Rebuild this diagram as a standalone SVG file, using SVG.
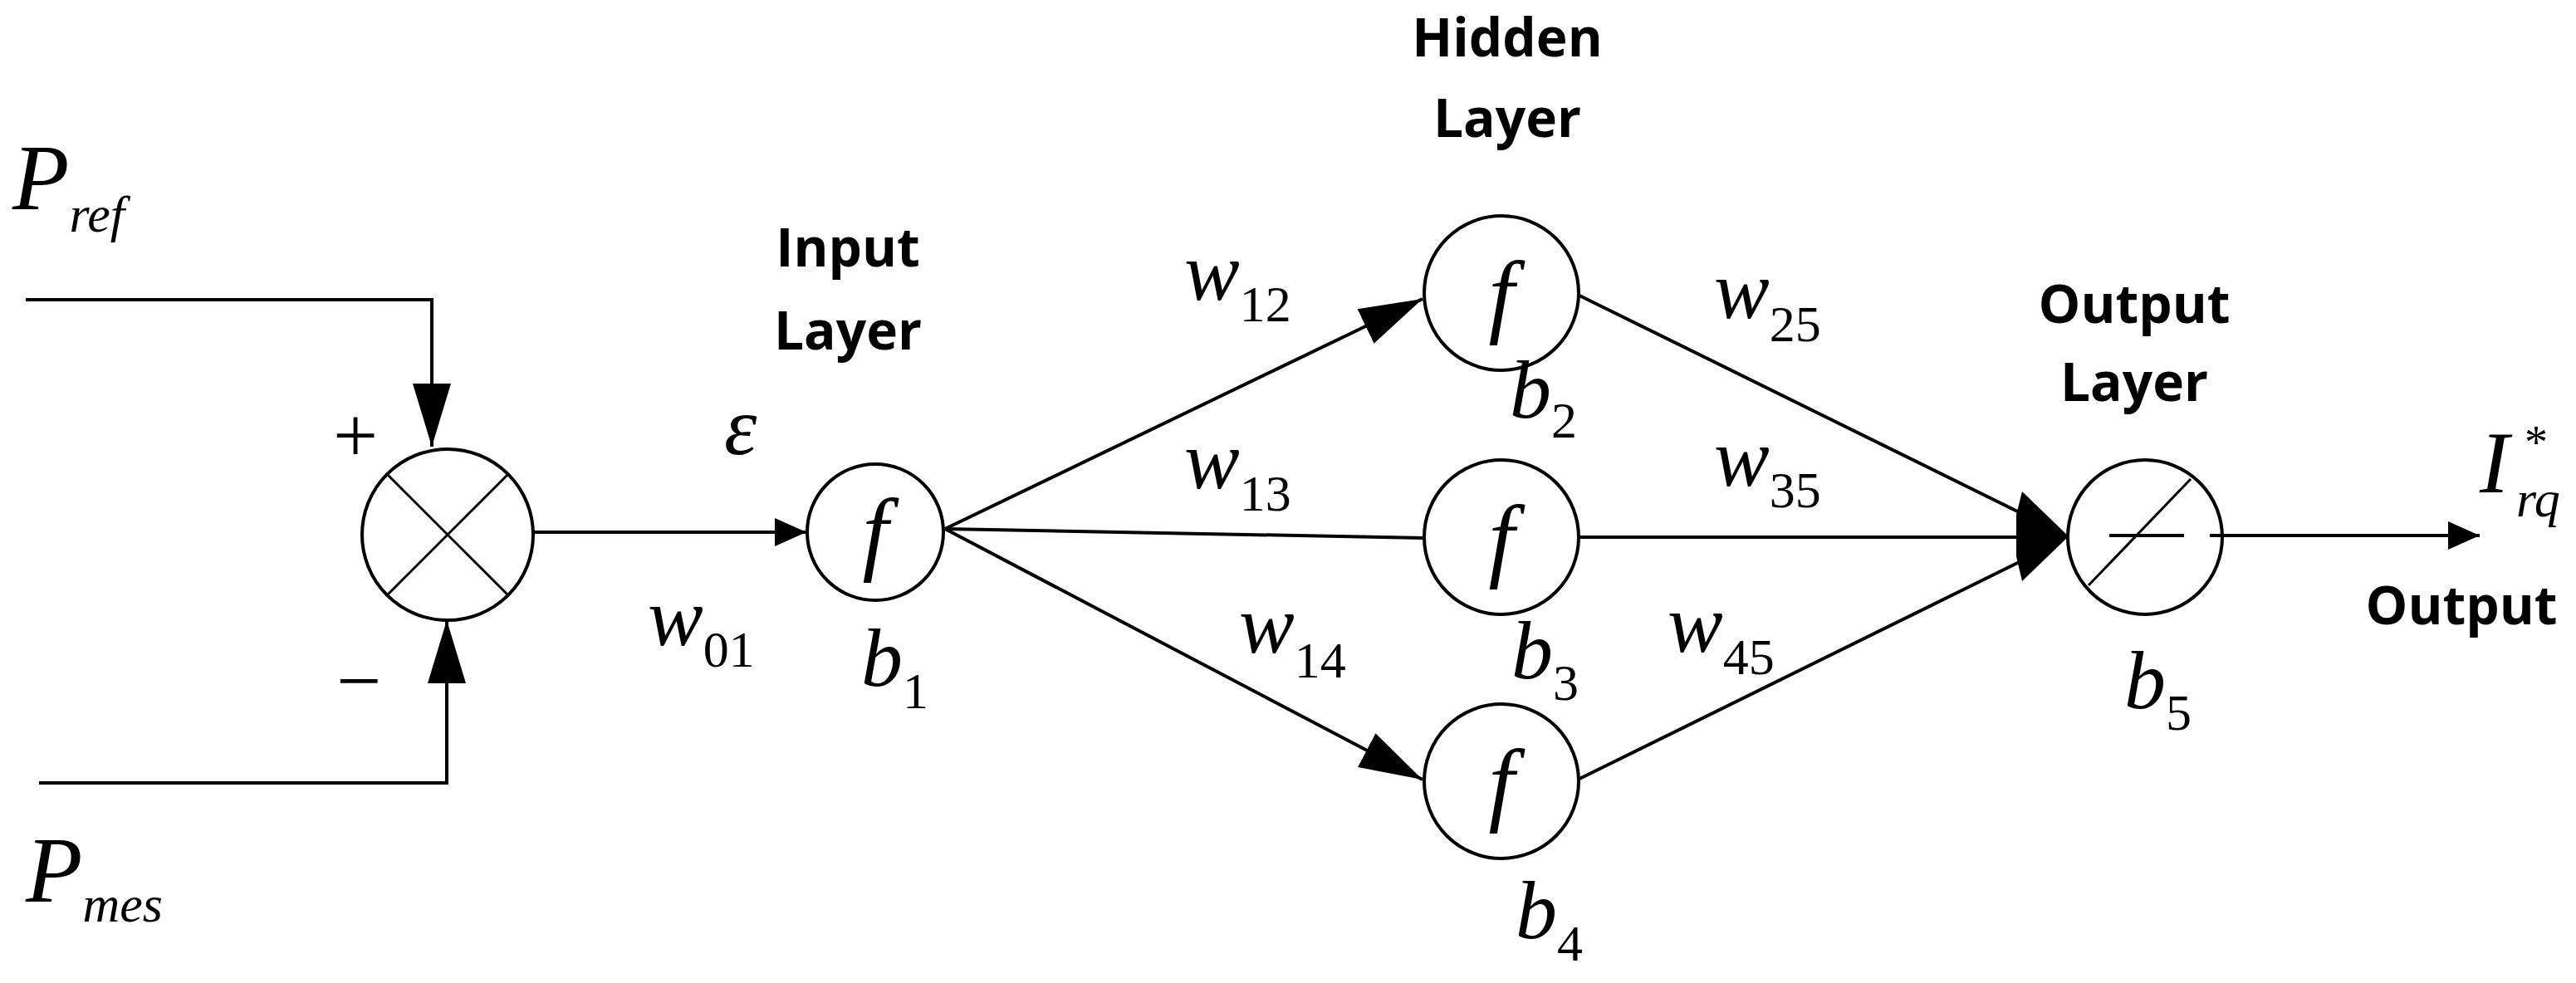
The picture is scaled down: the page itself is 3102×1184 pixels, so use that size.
<svg xmlns="http://www.w3.org/2000/svg" width="3102" height="1184" viewBox="0 0 3102 1184">
<style>
.ln{fill:none;stroke:#000;stroke-width:4}
.nd{fill:#fff;stroke:#000;stroke-width:4}
.lb{font-family:'Open Sans','Liberation Sans',sans-serif;font-weight:bold;font-size:64px;fill:#000;text-anchor:middle;font-style:normal}
</style>
<defs>
<marker id="big" markerUnits="userSpaceOnUse" markerWidth="80" markerHeight="50" viewBox="0 0 80 50" refX="76" refY="25" orient="auto"><path d="M0,2 L76,25 L0,48 Z" fill="#000"/></marker>
<marker id="sm" markerUnits="userSpaceOnUse" markerWidth="40" markerHeight="36" viewBox="0 0 40 36" refX="38" refY="18" orient="auto"><path d="M0,1 L38,18 L0,35 Z" fill="#000"/></marker>
</defs>
<g id="connectors">
<polyline class="ln" points="31,361 520,361 520,538" marker-end="url(#big)"/>
<polyline class="ln" points="47,943 538,943 538,747" marker-end="url(#big)"/>
<line class="ln" x1="643" y1="641" x2="971" y2="641" marker-end="url(#sm)"/>
<line class="ln" x1="1138" y1="637" x2="1713" y2="360" marker-end="url(#big)"/>
<line class="ln" x1="1138" y1="637" x2="1715" y2="648"/>
<line class="ln" x1="1138" y1="637" x2="1713" y2="939" marker-end="url(#big)"/>
<line class="ln" x1="1902" y1="356" x2="2470" y2="636"/>
<line class="ln" x1="1902" y1="647" x2="2470" y2="647"/>
<line class="ln" x1="1902" y1="938" x2="2470" y2="658"/>
<polygon points="2435,592 2491,646 2435,700 2428,670 2428,620" fill="#000"/>
<line class="ln" x1="2676" y1="645" x2="2986" y2="645" marker-end="url(#sm)"/>
</g>
<g font-family="'Liberation Serif', 'DejaVu Serif', serif" fill="#000">
<g id="sum">
<circle class="nd" cx="539" cy="644" r="103"/>
<line class="ln" x1="466" y1="571" x2="612" y2="717" style="stroke-width:3"/>
<line class="ln" x1="612" y1="571" x2="466" y2="717" style="stroke-width:3"/>
<text x="428" y="556" font-size="96" text-anchor="middle">+</text>
<text x="432" y="852" font-size="96" text-anchor="middle">−</text>
</g>
<g id="inputs" font-style="italic">
<text x="15" y="252" font-size="112">P<tspan font-size="62" dy="27">ref</tspan></text>
<text x="31" y="1086" font-size="112">P<tspan font-size="62" dy="24">mes</tspan></text>
<text x="872" y="547" font-size="100">ε</text>
<text x="780" y="777" font-size="100">w<tspan font-size="62" dy="26" font-style="normal">01</tspan></text>
</g>
<g id="input-node">
<circle class="nd" cx="1054" cy="641" r="82"/>
<text x="1054" y="678" font-size="112" font-style="italic" text-anchor="middle">f</text>
<text x="1037" y="826" font-size="100" font-style="italic">b<tspan font-size="62" dy="27" font-style="normal">1</tspan></text>
<text class="lb" x="1021" y="321">Input</text>
<text class="lb" x="1021" y="421">Layer</text>
</g>
<g id="hidden2">
<circle class="nd" cx="1808" cy="353" r="93"/>
<text x="1808" y="392" font-size="112" font-style="italic" text-anchor="middle">f</text>
<text x="1818" y="503" font-size="100" font-style="italic">b<tspan font-size="62" dy="24" font-style="normal">2</tspan></text>
<text class="lb" x="1815" y="68">Hidden</text>
<text class="lb" x="1815" y="165">Layer</text>
</g>
<g id="hidden3">
<circle class="nd" cx="1808" cy="647" r="93"/>
<text x="1808" y="686" font-size="112" font-style="italic" text-anchor="middle">f</text>
<text x="1820" y="817" font-size="100" font-style="italic">b<tspan font-size="62" dy="26" font-style="normal">3</tspan></text>
</g>
<g id="hidden4">
<circle class="nd" cx="1808" cy="941" r="93"/>
<text x="1808" y="980" font-size="112" font-style="italic" text-anchor="middle">f</text>
<text x="1825" y="1130" font-size="100" font-style="italic">b<tspan font-size="62" dy="27" font-style="normal">4</tspan></text>
</g>
<g id="weights" font-style="italic" font-size="100">
<text x="1426" y="361">w<tspan font-size="62" dy="26" font-style="normal">12</tspan></text>
<text x="1426" y="588">w<tspan font-size="62" dy="27" font-style="normal">13</tspan></text>
<text x="1492" y="786">w<tspan font-size="62" dy="30" font-style="normal">14</tspan></text>
<text x="2064" y="383">w<tspan font-size="62" dy="28" font-style="normal">25</tspan></text>
<text x="2064" y="585">w<tspan font-size="62" dy="26" font-style="normal">35</tspan></text>
<text x="2008" y="785">w<tspan font-size="62" dy="27" font-style="normal">45</tspan></text>
</g>
<g id="output-node">
<circle class="nd" cx="2583" cy="647" r="93"/>
<line class="ln" x1="2540" y1="645" x2="2630" y2="645"/>
<line class="ln" x1="2661" y1="645" x2="2676" y2="645"/>
<line class="ln" x1="2515" y1="705" x2="2638" y2="577" style="stroke-width:3"/>
<text x="2558" y="853" font-size="100" font-style="italic">b<tspan font-size="62" dy="26" font-style="normal">5</tspan></text>
<text class="lb" x="2570" y="389">Output</text>
<text class="lb" x="2570" y="483">Layer</text>
</g>
<g id="output">
<text x="2986" y="593" font-size="106" font-style="italic">I</text>
<text x="3030" y="622" font-size="62" font-style="italic">rq</text>
<text x="3040" y="552" font-size="56">*</text>
<text class="lb" x="2964" y="752">Output</text>
</g>
</g>
</svg>
